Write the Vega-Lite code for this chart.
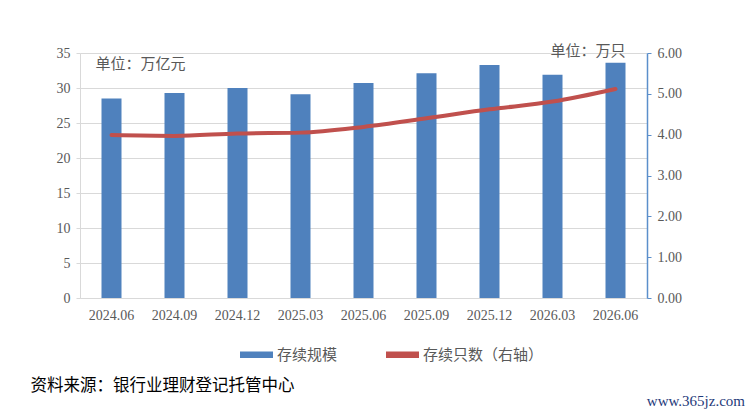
{
  "$schema": "https://vega.github.io/schema/vega-lite/v6.json",
  "description": "存续规模与存续只数",
  "autosize": {"type": "none"},
  "width": 567,
  "height": 245,
  "padding": {"left": 80, "top": 53, "right": 103, "bottom": 118},
  "background": "white",
  "data": {
    "values": [
      {"period": "2024.06", "scale": 28.5, "count": 3.99},
      {"period": "2024.09", "scale": 29.3, "count": 3.97},
      {"period": "2024.12", "scale": 30.0, "count": 4.03},
      {"period": "2025.03", "scale": 29.1, "count": 4.05},
      {"period": "2025.06", "scale": 30.7, "count": 4.19},
      {"period": "2025.09", "scale": 32.1, "count": 4.40},
      {"period": "2025.12", "scale": 33.3, "count": 4.62},
      {"period": "2026.03", "scale": 31.9, "count": 4.81},
      {"period": "2026.06", "scale": 33.6, "count": 5.12}
    ]
  },
  "title": {
    "text": "www.365jz.com",
    "orient": "bottom",
    "anchor": "end",
    "frame": "group",
    "dx": 98,
    "offset": 0,
    "font": "Liberation Serif",
    "fontSize": 15,
    "fontWeight": "normal",
    "color": "#1F3A7A"
  },
  "encoding": {
    "x": {
      "field": "period",
      "type": "nominal",
      "sort": null,
      "scale": {"paddingInner": 0, "paddingOuter": 0},
      "axis": {
        "title": "资料来源：银行业理财登记托管中心",
        "titleX": -50,
        "titleY": 87,
        "titleAlign": "left",
        "titleBaseline": "middle",
        "titleFont": "Noto Sans CJK SC",
        "titleFontSize": 16.5,
        "titleFontWeight": "normal",
        "titleColor": "#000000",
        "labelAngle": 0,
        "labelFont": "Liberation Serif",
        "labelFontSize": 14,
        "labelColor": "#595959",
        "labelPadding": 10,
        "ticks": false,
        "domainColor": "#D9D9D9",
        "grid": false
      }
    }
  },
  "layer": [
    {
      "mark": {"type": "bar", "size": 20, "color": "#4F81BD"},
      "encoding": {
        "y": {
          "field": "scale",
          "type": "quantitative",
          "scale": {"domain": [0, 35]},
          "axis": {
            "values": [0, 5, 10, 15, 20, 25, 30, 35],
            "title": "单位：万亿元",
            "titleAngle": 0,
            "titleX": 15,
            "titleY": 10,
            "titleAlign": "left",
            "titleBaseline": "middle",
            "titleFont": "Noto Sans CJK SC",
            "titleFontSize": 15,
            "titleFontWeight": "normal",
            "titleColor": "#595959",
            "labelFont": "Liberation Serif",
            "labelFontSize": 14,
            "labelColor": "#595959",
            "labelPadding": 6,
            "tickColor": "#D9D9D9",
            "tickSize": 4,
            "domainColor": "#D9D9D9",
            "gridColor": "#D9D9D9"
          }
        },
        "color": {"datum": "存续规模"}
      }
    },
    {
      "mark": {"type": "line", "interpolate": "monotone", "strokeWidth": 4, "strokeCap": "round"},
      "encoding": {
        "y": {
          "field": "count",
          "type": "quantitative",
          "scale": {"domain": [0, 6]},
          "axis": {
            "orient": "right",
            "values": [0, 1, 2, 3, 4, 5, 6],
            "format": ".2f",
            "grid": false,
            "title": "单位：万只",
            "titleAngle": 0,
            "titleX": -97,
            "titleY": -3,
            "titleAlign": "left",
            "titleBaseline": "middle",
            "titleFont": "Noto Sans CJK SC",
            "titleFontSize": 15,
            "titleFontWeight": "normal",
            "titleColor": "#595959",
            "labelFont": "Liberation Serif",
            "labelFontSize": 14,
            "labelColor": "#595959",
            "labelPadding": 6,
            "tickColor": "#5B8FCB",
            "tickSize": 4,
            "domainColor": "#5B8FCB",
            "domainWidth": 1.5
          }
        },
        "color": {"datum": "存续只数（右轴）"}
      }
    }
  ],
  "resolve": {"scale": {"y": "independent"}},
  "config": {
    "view": {"stroke": null},
    "range": {"category": ["#4F81BD", "#C0504D"]},
    "legend": {
      "orient": "none",
      "legendX": 160,
      "legendY": 285,
      "direction": "horizontal",
      "title": null,
      "symbolType": "M-1,-0.2H1V0.2H-1Z",
      "symbolSize": 1089,
      "symbolStrokeWidth": 0,
      "labelFont": "Noto Sans CJK SC",
      "labelFontSize": 15,
      "labelColor": "#595959",
      "columnPadding": 48,
      "labelOffset": 4
    }
  }
}
